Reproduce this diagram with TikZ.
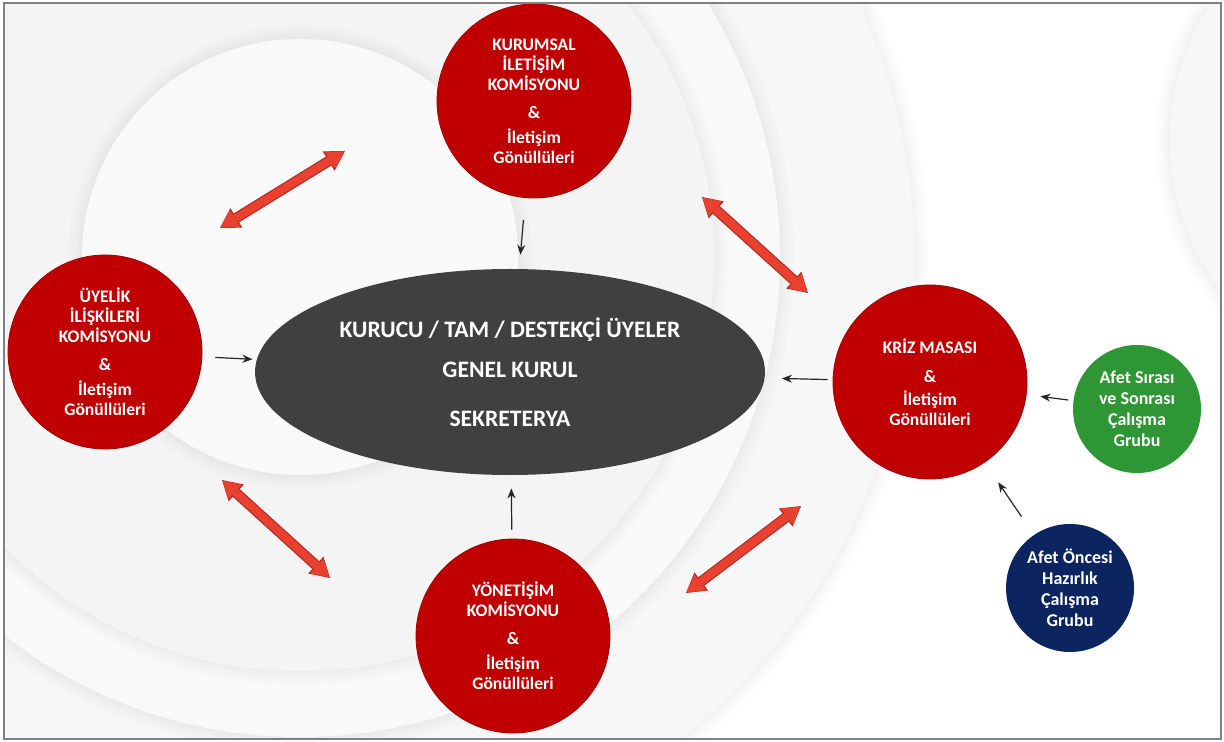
\documentclass[tikz,border=0pt]{standalone}
\usepackage{fontspec}
\setmainfont{Carlito}
\usetikzlibrary{arrows.meta,shapes.geometric}
\definecolor{kirmizi}{RGB}{192,0,0}
\definecolor{koyukirmizi}{RGB}{160,0,0}
\definecolor{koyugri}{RGB}{64,64,64}
\definecolor{yesil}{RGB}{46,150,52}
\definecolor{lacivert}{RGB}{12,36,96}
\definecolor{okkirmizi}{RGB}{234,64,48}
\definecolor{okkenar}{RGB}{180,44,36}
\definecolor{zemina}{RGB}{249,249,250}
\definecolor{zeminb}{RGB}{244,244,245}
\definecolor{zeminc}{RGB}{247,247,248}
\tikzstyle{daire}=[circle, minimum size=97pt, inner sep=0pt, fill=kirmizi, draw=koyukirmizi, line width=0.4pt, text=white, align=center, font=\bfseries\fontsize{8.8}{10}\selectfont]
\tikzstyle{kucuk}=[circle, minimum size=64pt, inner sep=0pt, text=white, align=center, font=\bfseries\fontsize{9}{10.5}\selectfont]
\tikzstyle{ok}=[draw=black!85, line width=0.6pt, -{Stealth[length=5pt,width=4pt]}]
\tikzstyle{okdis}=[draw=okkenar, line width=5.2pt, {Triangle[width=11.4pt,length=9.6pt,line width=0pt]}-{Triangle[width=11.4pt,length=9.6pt,line width=0pt]}]
\tikzstyle{okic}=[draw=okkirmizi, line width=4pt, {Triangle[width=10pt,length=8.4pt,line width=0pt]}-{Triangle[width=10pt,length=8.4pt,line width=0pt]}, shorten <=0.5pt, shorten >=0.5pt]

\begin{document}
\begin{tikzpicture}[x=0.5pt,y=-0.5pt]
\useasboundingbox (0,0) rectangle (1224,742);
\fill[white] (0,0) rectangle (1224,742);
\begin{scope}
\clip (4,3) rectangle (1221,739);
\foreach \s in {14,10,6,3} {
	\fill[black,opacity=.012] (1420,140) circle [radius=250+\s];
}
\fill[zeminc] (1420,140) circle [radius=250];
\foreach \r/\c in {614/zeminc,480/zemina,414/zeminb,218/zemina} {
	\foreach \s in {14,10,6,3} {
		\fill[black,opacity=.012] (300,257) circle [radius=\r+\s];
	}
	\fill[\c] (300,257) circle [radius=\r];
}
\end{scope}

\node[ellipse, fill=koyugri, minimum width=255pt, minimum height=103pt, inner sep=0pt, text=white, align=center, font=\bfseries\fontsize{11.8}{20}\selectfont] (genel) at (510,372) {KURUCU / TAM / DESTEKÇİ ÜYELER\\GENEL KURUL\\[4.5pt]SEKRETERYA};
\node[daire] (kurumsal) at (534,101) {KURUMSAL\\İLETİŞİM\\KOMİSYONU\\[4pt]\&\\[2.5pt]İletişim\\Gönüllüleri};
\node[daire] (uyelik) at (105,352) {ÜYELİK\\İLİŞKİLERİ\\KOMİSYONU\\[4pt]\&\\[2.5pt]İletişim\\Gönüllüleri};
\node[daire] (yonetisim) at (513,636) {YÖNETİŞİM\\KOMİSYONU\\[4pt]\&\\[2.5pt]İletişim\\Gönüllüleri};
\node[daire] (kriz) at (930,382) {KRİZ MASASI\\[4.5pt]\&\\[1.5pt]İletişim\\Gönüllüleri};
\node[kucuk, fill=yesil] (sirasi) at (1137,409) {Afet Sırası\\ve Sonrası\\Çalışma\\Grubu};
\node[kucuk, fill=lacivert] (oncesi) at (1070,588) {Afet Öncesi\\Hazırlık\\Çalışma\\Grubu};

\draw[ok, shorten <=11pt, shorten >=7pt] (kurumsal) -- (genel);
\draw[ok, shorten <=6.5pt, shorten >=2pt] (uyelik) -- (genel);
\draw[ok, shorten <=4.5pt, shorten >=6.5pt] (yonetisim) -- (genel);
\draw[ok, shorten <=2.5pt, shorten >=8.5pt] (kriz) -- (genel);
\draw[ok, shorten <=2.5pt, shorten >=7pt] (sirasi) -- (kriz);
\draw[ok, shorten <=11pt, shorten >=12pt] (oncesi) -- (kriz);

\coordinate (ok1a) at (220,228);
\coordinate (ok1b) at (345,151);
\coordinate (ok2a) at (702,197);
\coordinate (ok2b) at (808,293);
\coordinate (ok3a) at (222,480);
\coordinate (ok3b) at (330,578);
\coordinate (ok4a) at (686,593);
\coordinate (ok4b) at (801,506);
\foreach \a/\b in {ok1a/ok1b,ok2a/ok2b,ok3a/ok3b,ok4a/ok4b} {
	\draw[okdis] (\a) -- (\b);
	\draw[okic] (\a) -- (\b);
}

\draw[gray, line width=0.8pt] (4,3) rectangle (1221,739);
\end{tikzpicture}
\end{document}
